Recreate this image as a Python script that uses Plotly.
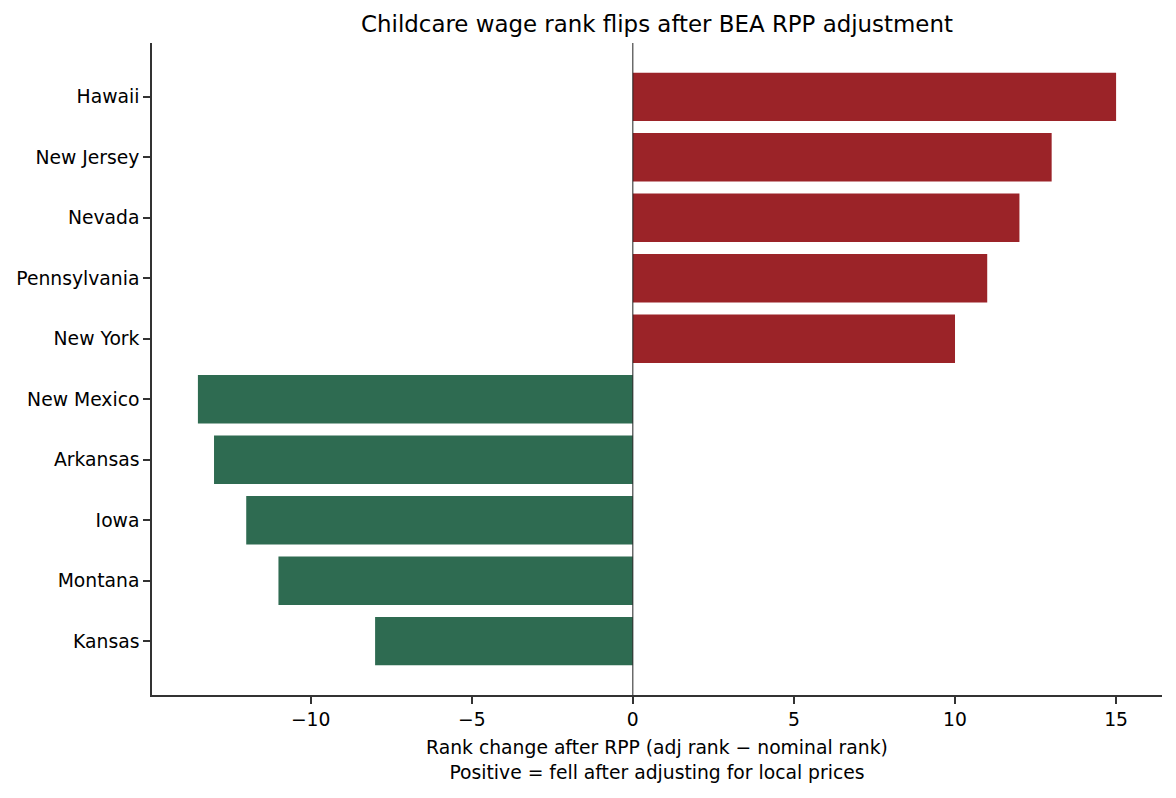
import plotly.graph_objects as go

# states ordered top to bottom as drawn
states = ["Hawaii", "New Jersey", "Nevada", "Pennsylvania", "New York",
          "New Mexico", "Arkansas", "Iowa", "Montana", "Kansas"]
rank_change = [15, 13, 12, 11, 10, -13.5, -13, -12, -11, -8]

RED = "#9b2328"
GREEN = "#2e6b51"
colors = [RED if v > 0 else GREEN for v in rank_change]

font = "DejaVu Sans"
axis_color = "#333333"

# page body has an 8px margin, so the figure is shifted by that much
W, H = 1168, 790

fig = go.Figure(go.Bar(
    x=rank_change,
    y=states,
    orientation="h",
    width=0.8,
    marker=dict(color=colors, line=dict(width=0)),
))

# vertical reference line at zero
fig.add_shape(type="line", xref="x", yref="paper", x0=0, x1=0, y0=0, y1=1,
              line=dict(color="#222222", width=1))

fig.update_layout(
    width=W, height=H,
    paper_bgcolor="white", plot_bgcolor="white",
    margin=dict(l=144, r=14, t=35, b=103),
    showlegend=False,
    font=dict(family=font, size=18.75, color="black"),
    title=dict(text="Childcare wage rank flips after BEA RPP adjustment",
               x=0.5, xref="paper", xanchor="center",
               y=1 - 16 / H, yref="container", yanchor="middle",
               font=dict(size=22.9)),
)
fig.update_xaxes(
    range=[-14.925, 16.425],
    tickvals=[-10, -5, 0, 5, 10, 15],
    showgrid=False, zeroline=False, automargin=False,
    showline=True, linecolor=axis_color, linewidth=1.6,
    ticks="outside", ticklen=7, tickwidth=1.6, tickcolor=axis_color,
    tickfont=dict(size=18.75),
    title=dict(text="Rank change after RPP (adj rank − nominal rank)<br>Positive = fell after adjusting for local prices",
               font=dict(size=18.75), standoff=12),
)
fig.update_yaxes(
    categoryorder="array", categoryarray=states,
    range=[9.89, -0.89],
    showgrid=False, zeroline=False, automargin=False,
    showline=True, linecolor=axis_color, linewidth=1.6,
    ticks="outside", ticklen=7, tickwidth=1.6, tickcolor=axis_color,
    tickfont=dict(size=18.75),
)

fig.write_html("out.html")
